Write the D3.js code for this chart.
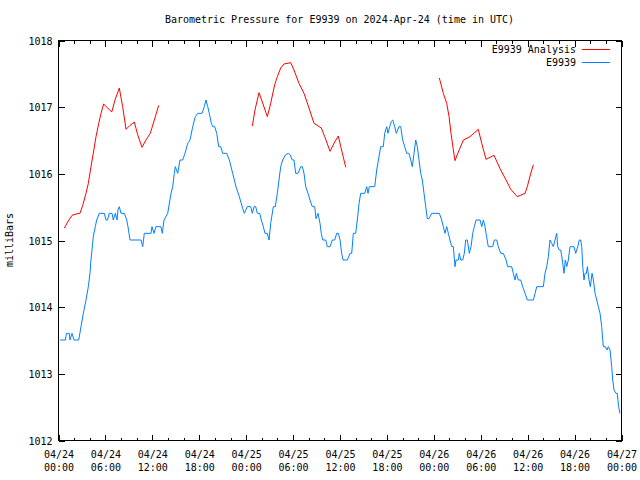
<!DOCTYPE html>
<html>
<head>
<meta charset="utf-8">
<script src="https://cdn.jsdelivr.net/npm/d3@7"></script>
<style>
  html, body { margin: 0; padding: 0; background: #fff; }
  svg { display: block; }
  text { font-family: "DejaVu Sans Mono", "Liberation Mono", monospace; font-size: 10px; fill: #000; }
</style>
</head>
<body>
<svg id="chart" width="640" height="480"></svg>
<script>
// ---- DATA (hours after 2024-04-24 00:00 UTC, pressure in mbar) ----
const titleText = "Barometric Pressure for E9939 on 2024-Apr-24 (time in UTC)";
const yLabelText = "milliBars";
const seriesNames = ["E9939 Analysis", "E9939"];
const yTicks = [1012, 1013, 1014, 1015, 1016, 1017, 1018];
const xTickHours = [0, 6, 12, 18, 24, 30, 36, 42, 48, 54, 60, 66, 72];

// Analysis series (null = gap)
const analysisHours = [
  0.81, 1.24, 1.79, 2.30, 2.81, 3.16, 3.58, 3.88, 4.22, 4.51, 4.86, 5.21, 5.50, 5.84, 6.36, 6.87, 7.29, 7.84, 8.27, 8.70, 9.21, 9.76, 10.19, 10.74, 11.25, 11.80, 12.32, 12.88,
  null,
  24.85, 25.19, 25.71, 26.13, 26.77, 27.20, 27.71, 28.05, 28.48, 28.90, 29.76, 30.18, 30.82, 31.46, 32.10, 32.74, 33.67, 34.11, 34.79, 35.39, 35.85, 36.16, 36.80,
  null,
  48.77, 49.28, 49.71, 50.01, 50.26, 50.56, 50.77, 51.20, 51.84, 52.69, 53.75, 54.19, 54.74, 55.76, 56.53, 57.30, 57.90, 58.74, 59.73, 60.02, 60.37, 60.79
];
const analysisValues = [
  1015.18, 1015.27, 1015.37, 1015.39, 1015.40, 1015.52, 1015.70, 1015.85, 1016.10, 1016.30, 1016.55, 1016.75, 1016.90, 1017.04, 1016.98, 1016.92, 1017.10, 1017.28, 1017.00, 1016.66, 1016.72, 1016.77, 1016.58, 1016.39, 1016.50, 1016.60, 1016.80, 1017.02,
  null,
  1016.71, 1016.95, 1017.21, 1017.07, 1016.85, 1017.05, 1017.33, 1017.45, 1017.58, 1017.64, 1017.66, 1017.55, 1017.35, 1017.20, 1016.98, 1016.75, 1016.68, 1016.55, 1016.33, 1016.47, 1016.56, 1016.40, 1016.09,
  null,
  1017.43, 1017.20, 1017.05, 1016.85, 1016.60, 1016.35, 1016.19, 1016.32, 1016.50, 1016.55, 1016.66, 1016.45, 1016.21, 1016.27, 1016.07, 1015.90, 1015.76, 1015.65, 1015.70, 1015.80, 1015.96, 1016.13
];

// Station series
const stationHours = [
  0.26, 0.93, 1.09, 1.45, 1.53, 1.79, 2.05, 2.65, 2.94, 3.24, 3.58, 3.88, 4.09, 4.22, 4.35, 4.51, 4.77, 4.95, 5.28, 5.92,
  6.14, 6.33, 6.56, 6.91, 7.07, 7.33, 7.55, 7.67, 7.84, 8.06, 8.48, 8.79, 8.95, 9.21, 10.62, 10.83, 11.04, 11.89, 12.02, 12.28,
  12.53, 13.17, 13.34, 13.56, 14.03, 14.45, 14.67, 14.87, 15.00, 15.31, 15.60, 15.95, 16.24, 16.59, 16.88, 17.23, 17.56, 17.87, 18.42, 18.71,
  18.93, 19.15, 19.35, 19.61, 19.79, 20.04, 20.30, 20.55, 20.81, 21.07, 21.58, 21.91, 22.34, 22.76, 23.19, 23.62, 23.83, 24.21, 24.65, 24.85,
  25.07, 25.28, 25.49, 25.80, 26.00, 26.26, 26.47, 26.77, 26.99, 27.20, 27.54, 27.79, 28.05, 28.26, 28.48, 28.73, 29.12, 29.45, 29.67, 29.97,
  30.18, 30.40, 30.69, 31.04, 31.24, 31.46, 31.68, 31.97, 32.23, 32.52, 32.83, 33.00, 33.25, 33.51, 33.67, 33.85, 34.24, 34.44, 34.79, 35.08,
  35.39, 35.64, 35.85, 36.07, 36.28, 36.45, 37.00, 37.35, 37.56, 37.77, 38.07, 38.28, 38.50, 38.71, 39.23, 39.48, 39.65, 39.81, 40.50, 40.76,
  41.05, 41.27, 41.60, 41.78, 42.04, 42.20, 42.42, 42.63, 42.81, 43.06, 43.27, 43.61, 43.83, 44.08, 44.34, 44.60, 44.89, 45.11, 45.31, 45.53,
  45.75, 45.95, 46.17, 46.39, 46.59, 46.81, 47.03, 47.23, 47.45, 47.79, 48.77, 49.07, 49.28, 49.49, 49.71, 49.92, 50.13, 50.35, 50.56, 50.77,
  50.90, 51.20, 51.32, 51.50, 51.76, 51.96, 52.14, 52.35, 52.60, 52.82, 53.04, 53.24, 53.46, 53.97, 54.19, 54.40, 54.61, 54.74, 55.03, 55.59,
  55.80, 56.11, 56.31, 56.62, 56.95, 57.30, 57.51, 58.02, 58.23, 58.45, 58.61, 58.87, 59.18, 59.43, 59.73, 60.02, 60.79, 61.01, 61.22, 62.07,
  62.28, 62.50, 62.71, 62.92, 63.14, 63.35, 63.56, 63.78, 63.91, 64.11, 64.29, 64.50, 64.71, 64.88, 65.06, 65.26, 65.48, 65.99, 66.21, 66.47,
  66.67, 66.85, 66.98, 67.11, 67.27, 67.40, 67.57, 67.70, 67.91, 68.08, 68.30, 68.47, 68.68, 68.90, 69.10, 69.32, 69.53, 69.74, 69.99, 70.21,
  70.38, 70.60, 70.81, 70.94, 71.11, 71.36, 71.52, 71.70, 71.87
];
const stationValues = [
  1013.5, 1013.5, 1013.6, 1013.6, 1013.5, 1013.6, 1013.5, 1013.5, 1013.7, 1013.9, 1014.1, 1014.3, 1014.5, 1014.7, 1014.85, 1015.05, 1015.2, 1015.3, 1015.4, 1015.4,
  1015.3, 1015.3, 1015.4, 1015.4, 1015.3, 1015.4, 1015.3, 1015.45, 1015.5, 1015.4, 1015.4, 1015.3, 1015.2, 1015.0, 1015.0, 1014.9, 1015.1, 1015.1, 1015.2, 1015.1,
  1015.2, 1015.2, 1015.1, 1015.3, 1015.4, 1015.7, 1015.8, 1016.0, 1016.1, 1016.0, 1016.2, 1016.2, 1016.3, 1016.45, 1016.5, 1016.7, 1016.85, 1016.9, 1016.9, 1017.0,
  1017.1, 1017.0, 1016.9, 1016.75, 1016.7, 1016.7, 1016.6, 1016.4, 1016.4, 1016.3, 1016.3, 1016.2, 1016.0, 1015.8, 1015.65, 1015.47, 1015.4, 1015.5, 1015.5, 1015.4,
  1015.5, 1015.5, 1015.4, 1015.4, 1015.3, 1015.2, 1015.1, 1015.1, 1015.0, 1015.25, 1015.5, 1015.5, 1015.7, 1015.9, 1016.1, 1016.2, 1016.28, 1016.3, 1016.28, 1016.2,
  1016.2, 1016.0, 1016.0, 1016.1, 1016.1, 1016.0, 1015.8, 1015.7, 1015.6, 1015.5, 1015.5, 1015.32, 1015.4, 1015.25, 1015.1, 1015.0, 1015.0, 1014.9, 1014.9, 1015.0,
  1015.0, 1015.1, 1015.1, 1015.0, 1014.8, 1014.7, 1014.7, 1014.8, 1014.8, 1015.1, 1015.1, 1015.3, 1015.55, 1015.7, 1015.7, 1015.8, 1015.7, 1015.8, 1015.8, 1016.05,
  1016.25, 1016.4, 1016.4, 1016.6, 1016.7, 1016.6, 1016.7, 1016.78, 1016.8, 1016.7, 1016.6, 1016.7, 1016.7, 1016.5, 1016.4, 1016.3, 1016.3, 1016.2, 1016.1, 1016.3,
  1016.5, 1016.4, 1016.2, 1016.0, 1015.9, 1015.7, 1015.5, 1015.32, 1015.32, 1015.4, 1015.4, 1015.3, 1015.2, 1015.1, 1015.2, 1015.1, 1015.0, 1014.9, 1014.9, 1014.6,
  1014.7, 1014.7, 1014.8, 1014.7, 1014.7, 1014.8, 1015.0, 1015.0, 1014.8, 1014.9, 1015.1, 1015.2, 1015.3, 1015.3, 1015.2, 1015.3, 1015.2, 1015.1, 1014.9, 1014.9,
  1015.0, 1015.0, 1014.9, 1014.8, 1014.8, 1014.7, 1014.6, 1014.6, 1014.5, 1014.4, 1014.5, 1014.4, 1014.4, 1014.3, 1014.2, 1014.1, 1014.1, 1014.2, 1014.3, 1014.3,
  1014.5, 1014.6, 1014.75, 1015.0, 1014.95, 1014.9, 1015.0, 1015.1, 1014.9, 1014.85, 1014.85, 1014.7, 1014.5, 1014.7, 1014.6, 1014.7, 1014.9, 1014.9, 1014.8, 1014.9,
  1015.0, 1015.0, 1014.9, 1014.6, 1014.4, 1014.5, 1014.5, 1014.6, 1014.4, 1014.3, 1014.5, 1014.4, 1014.2, 1014.1, 1014.0, 1013.9, 1013.7, 1013.4, 1013.4, 1013.35,
  1013.4, 1013.35, 1013.1, 1012.9, 1012.75, 1012.7, 1012.7, 1012.5, 1012.4
];

// ---- CHART ----
(function () {
const base = Date.UTC(2024, 3, 24, 0, 0, 0);
const toDate = h => new Date(base + h * 3600e3);

const pL = 58, pR = 621, pT = 40, pB = 440;

const x = d3.scaleUtc().domain([toDate(0), toDate(72)]).range([pL, pR]);
const y = d3.scaleLinear().domain([1012, 1018]).range([pB, pT]);

const svg = d3.select("#chart");

function mk(hours, vals) {
  return hours.map((h, i) => (h == null || vals[i] == null) ? null : { t: toDate(h), v: vals[i] });
}
const analysis = mk(analysisHours, analysisValues);
const station = mk(stationHours, stationValues);

const line = d3.line()
  .defined(d => d != null)
  .x(d => x(d.t))
  .y(d => y(d.v));

svg.append("text").attr("x", (pL + pR) / 2).attr("y", 23)
  .attr("text-anchor", "middle").text(titleText);

svg.append("text").attr("transform", `translate(13,${(pT + pB) / 2}) rotate(-90)`)
  .attr("text-anchor", "middle").text(yLabelText);

const axes = svg.append("g").attr("shape-rendering", "crispEdges");

const minorVals = d3.range(0, 73, 2).map(toDate);
const majorVals = xTickHours.map(toDate);

axes.append("g").attr("transform", `translate(0.5,${pB + 0.5})`)
  .call(d3.axisBottom(x).tickValues(minorVals).tickSize(-3).tickFormat(""))
  .call(g => g.select(".domain").remove());
axes.append("g").attr("transform", `translate(0.5,${pT + 0.5})`)
  .call(d3.axisTop(x).tickValues(minorVals).tickSize(-3).tickFormat(""))
  .call(g => g.select(".domain").remove());

const fmtDate = d3.utcFormat("%m/%d"), fmtTime = d3.utcFormat("%H:%M");
const xb = axes.append("g").attr("transform", `translate(0.5,${pB + 0.5})`)
  .call(d3.axisBottom(x).tickValues(majorVals).tickSize(-6).tickFormat(""))
  .call(g => g.select(".domain").remove());
xb.selectAll(".tick text").remove();
xb.selectAll(".tick").append("text")
  .attr("text-anchor", "middle").attr("y", 17).attr("fill", "#000")
  .style("font-size", "10px")
  .text(d => fmtDate(d));
xb.selectAll(".tick").append("text")
  .attr("text-anchor", "middle").attr("y", 30).attr("fill", "#000")
  .style("font-size", "10px")
  .text(d => fmtTime(d));
axes.append("g").attr("transform", `translate(0.5,${pT + 0.5})`)
  .call(d3.axisTop(x).tickValues(majorVals).tickSize(-6).tickFormat(""))
  .call(g => g.select(".domain").remove());

const yl = axes.append("g").attr("transform", `translate(${pL + 0.5},0.5)`)
  .call(d3.axisLeft(y).tickValues(yTicks).tickSize(-6).tickPadding(6).tickFormat(d3.format("d")))
  .call(g => g.select(".domain").remove());
yl.selectAll(".tick text").attr("x", -6).attr("dy", "0.35em")
  .style("font-size", "10px").style("font-family", '"DejaVu Sans Mono", monospace');
axes.append("g").attr("transform", `translate(${pR + 0.5},0.5)`)
  .call(d3.axisRight(y).tickValues(yTicks).tickSize(-6).tickFormat(""))
  .call(g => g.select(".domain").remove());

axes.selectAll(".tick line").attr("stroke", "#000");

axes.append("rect").attr("x", pL + 0.5).attr("y", pT + 0.5)
  .attr("width", pR - pL).attr("height", pB - pT)
  .attr("fill", "none").attr("stroke", "#000").attr("stroke-width", 1);

const colors = ["#ff0000", "#0080ff"];
svg.append("path").datum(analysis).attr("d", line)
  .attr("fill", "none").attr("stroke", colors[0]).attr("stroke-width", 1);
svg.append("path").datum(station).attr("d", line)
  .attr("fill", "none").attr("stroke", colors[1]).attr("stroke-width", 1);

const leg = svg.append("g");
seriesNames.forEach((name, i) => {
  const yy = 49 + i * 13;
  leg.append("text").attr("x", 576).attr("y", yy).attr("dy", "0.35em")
    .attr("text-anchor", "end").text(name);
  leg.append("line").attr("x1", 582).attr("x2", 610).attr("y1", yy + 0.5).attr("y2", yy + 0.5)
    .attr("stroke", colors[i]).attr("stroke-width", 1);
});
})();
</script>
</body>
</html>
